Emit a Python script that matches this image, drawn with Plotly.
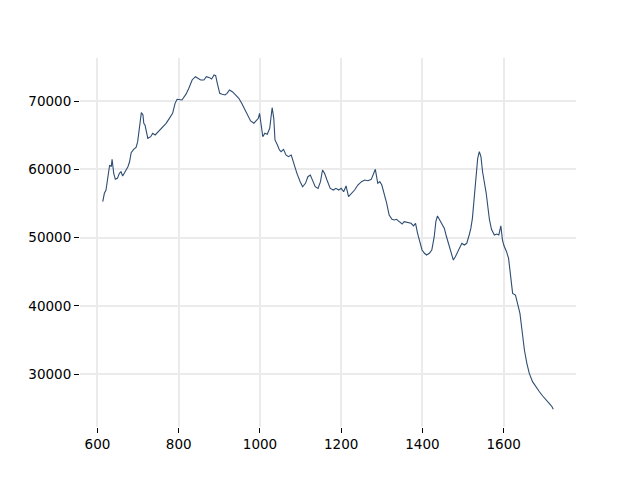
import plotly.graph_objects as go

wavenumber = [613, 617, 621, 625, 630, 634, 636, 640, 644, 649, 654, 658, 662, 668, 675, 679, 683, 689, 695, 699,
              703, 708, 712, 714, 717, 720, 724, 731, 736, 742, 749, 757, 763, 769, 777, 785, 791, 796, 808, 813,
              818, 825, 833, 841, 848, 854, 862, 868, 876, 881, 887, 891, 895, 901, 907, 914, 919, 925, 932, 940,
              948, 955, 963, 969, 977, 985, 991, 996, 999, 1004, 1007, 1012, 1018, 1024, 1027, 1030, 1034, 1037,
              1043, 1048, 1052, 1058, 1064, 1070, 1077, 1083, 1091, 1099, 1105, 1112, 1118, 1124, 1130, 1136, 1143,
              1149, 1154, 1159, 1165, 1173, 1181, 1187, 1194, 1200, 1206, 1212, 1218, 1225, 1233, 1241, 1250, 1258,
              1266, 1274, 1280, 1284, 1290, 1295, 1300, 1306, 1312, 1318, 1325, 1331, 1336, 1343, 1350, 1355, 1364,
              1372, 1378, 1383, 1388, 1394, 1399, 1405, 1410, 1417, 1423, 1429, 1433, 1437, 1442, 1448, 1454, 1458,
              1465, 1471, 1476, 1481, 1487, 1492, 1497, 1503, 1509, 1515, 1519, 1523, 1528, 1532, 1536, 1540, 1544,
              1548, 1553, 1557, 1561, 1565, 1570, 1577, 1583, 1588, 1593, 1597, 1601, 1607, 1612, 1618, 1622, 1629,
              1634, 1640, 1645, 1651, 1657, 1663, 1671, 1679, 1688, 1696, 1704, 1712, 1719, 1722]
intensity = [55245, 56480, 56960, 58900, 60620, 60380, 61460, 59400, 58530, 58670, 59400, 59640, 59010, 59640, 60380,
             61100, 62430, 62920, 63210, 64040, 66240, 68290, 67950, 66730, 66480, 65500, 64530, 64770, 65270, 65020,
             65500, 66000, 66480, 66730, 67460, 68200, 69660, 70250, 70150, 70540, 71000, 71860, 73080, 73560, 73320,
             73080, 73080, 73560, 73420, 73220, 73810, 73700, 72590, 71120, 70980, 70880, 71120, 71610, 71370, 70880,
             70400, 69660, 68680, 67950, 67070, 66730, 67220, 67460, 68200, 66240, 64770, 65270, 65120, 66000, 67460,
             69020, 67460, 64290, 63550, 62820, 62570, 62920, 62090, 61840, 62090, 60870, 59400, 58180, 57440, 57940,
             58910, 59160, 58420, 57440, 57200, 58180, 59890, 59400, 58420, 57200, 56960, 57200, 56960, 57200, 56710,
             57550, 55980, 56370, 56960, 57690, 58180, 58420, 58320, 58520, 59400, 59990, 57940, 58180, 57690, 56480,
             55010, 53300, 52670, 52570, 52670, 52320, 51980, 52320, 52170, 52080, 51700, 52080, 50620, 49150, 48170,
             47690, 47440, 47690, 48170, 50120, 52320, 53150, 52570, 51830, 51340, 50370, 48900, 47440, 46700, 47190,
             47920, 48650, 49150, 48900, 49150, 50370, 51300, 52810, 55980, 58670, 61600, 62570, 61840, 59640, 57940,
             56480, 54510, 52570, 51200, 50370, 50510, 50370, 51700, 49630, 48750, 47920, 46950, 43770, 41820, 41570,
             40360, 38890, 36450, 33520, 31570, 30100, 28880, 28140, 27410, 26780, 26290, 25710, 25210, 24830]

x_ticks = [600, 800, 1000, 1200, 1400, 1600]
y_ticks = [30000, 40000, 50000, 60000, 70000]

fig = go.Figure()
fig.add_trace(go.Scatter(x=wavenumber, y=intensity, mode="lines",
                         line=dict(color="#2e4d73", width=1.1), showlegend=False))

axis_common = dict(showline=False, zeroline=False, showgrid=True, gridcolor="#ebebeb", gridwidth=1.5,
                   ticks="outside", ticklen=5, tickwidth=1, tickcolor="black",
                   tickfont=dict(family="DejaVu Sans", size=13.5, color="black"))

fig.update_xaxes(range=[557, 1778], tickvals=x_ticks, ticktext=[str(v) for v in x_ticks], **axis_common)
fig.update_yaxes(range=[22240, 76300], tickvals=y_ticks, ticktext=[str(v) for v in y_ticks], **axis_common)

fig.update_layout(width=640, height=480, margin=dict(l=72, r=72, t=50, b=61),
                  plot_bgcolor="white", paper_bgcolor="white")

fig.write_html("out.html")
